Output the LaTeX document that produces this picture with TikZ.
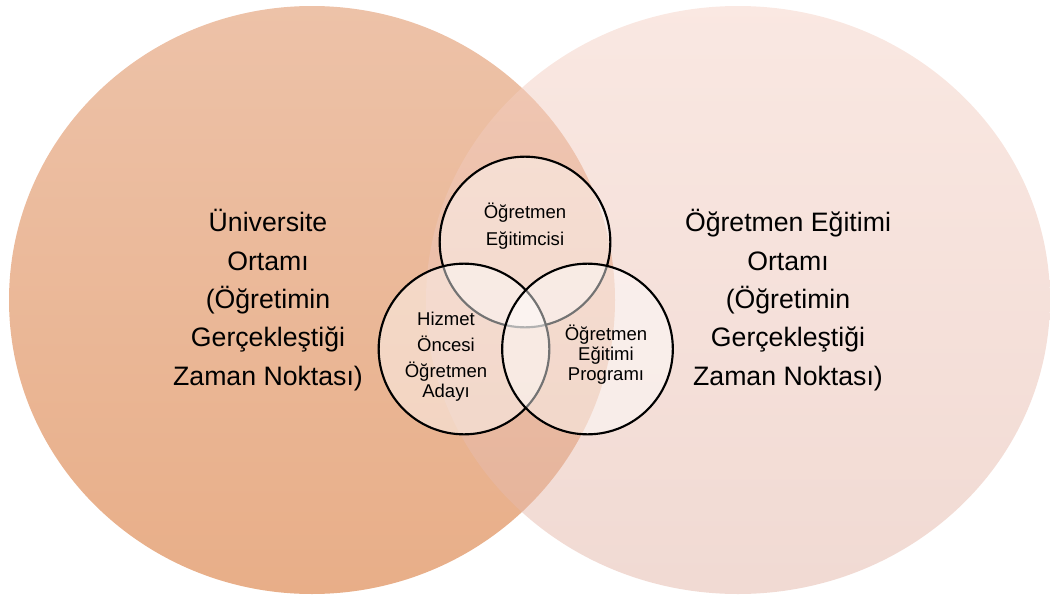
\documentclass[tikz,border=0pt]{standalone}
\usepackage{fontspec}
\setmainfont{Liberation Sans}
\definecolor{uniTop}{HTML}{EDC2A8}
\definecolor{uniMid}{HTML}{EDB794}
\definecolor{uniBottom}{HTML}{E8AE88}
\definecolor{egtTop}{HTML}{F5D1C5}
\definecolor{egtMid}{HTML}{F6CDC1}
\definecolor{egtBottom}{HTML}{E3B5A7}
\begin{document}
\begin{tikzpicture}[x=0.75pt, y=-0.75pt,
    lens/.style={circle, draw=black, line width=1.6pt, fill=white,
      fill opacity=0.45, text opacity=1, minimum size=128pt, inner sep=0pt},
    bigtext/.style={font=\fontsize{20}{28.7}\selectfont, align=center, anchor=base},
    smalltext/.style={font=\fontsize{13.9}{20.25}\selectfont, align=center, anchor=base}]
  \useasboundingbox (0,0) rectangle (1050,596);
  % two settings
  \shade[top color=uniTop, middle color=uniMid, bottom color=uniBottom]
    (312,300) ellipse [x radius=303, y radius=294];
  \shade[top color=egtTop, middle color=egtMid, bottom color=egtBottom, fill opacity=0.5]
    (738,300) ellipse [x radius=312, y radius=294];
  % three actors
  \node[lens] (egitimci) at (525,242) {};
  \node[lens] (aday) at (464,349) {};
  \node[lens] (program) at (587.5,349) {};
  % labels, placed at the baseline of their last line
  \node[bigtext] (universite) at (268,385)
    {Üniversite\\Ortamı\\(Öğretimin\\Gerçekleştiği\\Zaman Noktası)};
  \node[bigtext] (egitimOrtami) at (788,385)
    {Öğretmen Eğitimi\\Ortamı\\(Öğretimin\\Gerçekleştiği\\Zaman Noktası)};
  \node[smalltext] (egitimciText) at (525,245) {Öğretmen\\Eğitimcisi};
  \node[smalltext] (adayText) at (446,397)
    {Hizmet\\[-0.75pt]Öncesi\\[-0.75pt]Öğretmen\\[-5.9pt]Adayı};
  \node[smalltext, font=\fontsize{13.9}{14.7}\selectfont] (programText) at (606,380)
    {Öğretmen\\Eğitimi\\Programı};
\end{tikzpicture}
\end{document}
